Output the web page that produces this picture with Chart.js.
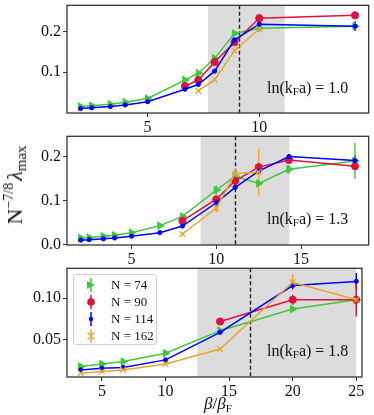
<!DOCTYPE html>
<html>
<head>
<meta charset="utf-8">
<script src="https://cdn.jsdelivr.net/npm/chart.js@4.4.0/dist/chart.umd.js"></script>
<style>
  html, body { margin: 0; padding: 0; background: #fff; }
  #wrap { position: relative; width: 374px; height: 415px; overflow: hidden;
          font-family: 'Liberation Serif', 'DejaVu Serif', serif; color: #111; }
  .panel { position: absolute; left: 0; width: 374px; }
  .note { position: absolute; left: 267px; font-size: 16px; line-height: 18px; white-space: nowrap; }
  .note sub { font-size: 11px; line-height: 0; vertical-align: -2px; }
  #ylab { position: absolute; left: 15px; top: 185px; white-space: nowrap; font-size: 22px; line-height: 24px;
          transform: translate(-50%, -50%) rotate(-90deg); }
  #ylab sup { font-size: 14px; line-height: 0; vertical-align: 9px; margin-right: 2px; }
  #ylab sub { font-size: 15px; line-height: 0; vertical-align: -4px; }
  #xlab { position: absolute; left: 218px; top: 404px; transform: translate(-50%, -50%); font-size: 17px; white-space: nowrap; }
  #xlab sub { font-size: 11px; line-height: 0; vertical-align: -3px; }
  #legend { position: absolute; left: 73px; top: 274px; width: 84px; height: 71px; box-sizing: border-box;
            border: 1px solid #cfcfcf; border-radius: 3px; background: rgba(255,255,255,0.85); }
  .lg { position: absolute; left: 0; height: 16px; font-size: 13px; line-height: 16px; white-space: nowrap; }
  .lg svg { position: absolute; left: 7px; top: 0; }
  .lg span { position: absolute; left: 37px; top: 0; }
</style>
</head>
<body>
<div id="wrap">
  <div class="panel" style="top:0;height:133px"><canvas id="c1"></canvas></div>
  <div class="panel" style="top:131px;height:134px"><canvas id="c2"></canvas></div>
  <div class="panel" style="top:263px;height:134px"><canvas id="c3"></canvas></div>

  <div class="note" style="top:79px">ln(k<sub>F</sub>a) = 1.0</div>
  <div class="note" style="top:210px">ln(k<sub>F</sub>a) = 1.3</div>
  <div class="note" style="top:342px">ln(k<sub>F</sub>a) = 1.8</div>

  <div id="ylab">N<sup>−7/8</sup><i>λ</i><sub>max</sub></div>
  <div id="xlab"><i>β</i>/<i>β</i><sub>F</sub></div>

  <div id="legend">
    <div class="lg" style="top:2px">
      <svg width="20" height="16"><line x1="10" y1="1" x2="10" y2="15" stroke="#3dc83d" stroke-width="1.5"/><polygon points="6,4 14,8 6,12" fill="#3dc83d"/></svg>
      <span>N = 74</span></div>
    <div class="lg" style="top:19px">
      <svg width="20" height="16"><line x1="10" y1="1" x2="10" y2="15" stroke="#dc143c" stroke-width="1.5"/><circle cx="10" cy="8" r="3.8" fill="#dc143c"/></svg>
      <span>N = 90</span></div>
    <div class="lg" style="top:36px">
      <svg width="20" height="16"><line x1="10" y1="1" x2="10" y2="15" stroke="#0000ff" stroke-width="1.5"/><circle cx="10" cy="8" r="2.2" fill="#0000ff"/></svg>
      <span>N = 114</span></div>
    <div class="lg" style="top:53px">
      <svg width="20" height="16"><line x1="10" y1="1" x2="10" y2="15" stroke="#e6a532" stroke-width="1.5"/><path d="M6.5 4.5 L13.5 11.5 M13.5 4.5 L6.5 11.5" stroke="#e6a532" stroke-width="1.3"/></svg>
      <span>N = 162</span></div>
  </div>
</div>

<script>
// ---- panel 1: ln(kFa) = 1.0 ----
const p1XTicks = [5, 10];
const p1YTicks = [0.1, 0.2];
const p1YTickLabels = ['0.1', '0.2'];
const p1Band = [7.70, 11.14];
const p1Dash = 9.11;
const p1X74 = [2, 2.5, 3.33, 4, 5, 6.67, 7.27, 8, 8.89, 10, 14.29];
const p1Y74 = [0.014, 0.016, 0.020, 0.025, 0.034, 0.080, 0.097, 0.134, 0.196, 0.209, 0.214];
const p1E74 = [0.002, 0.002, 0.002, 0.002, 0.002, 0.003, 0.003, 0.004, 0.004, 0.005, 0.004];
const p1X90 = [6.67, 7.27, 8, 8.89, 10, 14.29];
const p1Y90 = [0.065, 0.080, 0.125, 0.174, 0.234, 0.241];
const p1E90 = [0.003, 0.004, 0.005, 0.005, 0.010, 0.009];
const p1X114 = [2, 2.5, 3.33, 4, 5, 6.67, 7.27, 8, 8.89, 10, 14.29];
const p1Y114 = [0.009, 0.011, 0.014, 0.018, 0.026, 0.057, 0.069, 0.102, 0.180, 0.219, 0.214];
const p1E114 = [0.001, 0.001, 0.001, 0.001, 0.002, 0.002, 0.003, 0.003, 0.004, 0.008, 0.012];
const p1X162 = [7.27, 8, 8.89, 10];
const p1Y162 = [0.053, 0.081, 0.153, 0.207];
const p1E162 = [0.002, 0.003, 0.004, 0.006];

// ---- panel 2: ln(kFa) = 1.3 ----
const p2XTicks = [5, 10, 15];
const p2YTicks = [0.0, 0.1, 0.2];
const p2YTickLabels = ['0.0', '0.1', '0.2'];
const p2Band = [9.07, 14.3];
const p2Dash = 11.11;
const p2X74 = [2, 2.5, 3.33, 4, 5, 6.67, 8, 10, 11.11, 12.5, 14.29, 18.18];
const p2Y74 = [0.015, 0.016, 0.019, 0.021, 0.027, 0.043, 0.064, 0.124, 0.155, 0.139, 0.171, 0.190];
const p2E74 = [0.002, 0.002, 0.002, 0.002, 0.002, 0.002, 0.004, 0.010, 0.008, 0.004, 0.010, 0.041];
const p2X90 = [8, 10, 11.11, 12.5, 14.29, 18.18];
const p2Y90 = [0.054, 0.103, 0.145, 0.176, 0.192, 0.178];
const p2E90 = [0.004, 0.007, 0.008, 0.008, 0.005, 0.006];
const p2X114 = [2, 2.5, 3.33, 4, 5, 6.67, 8, 10, 11.11, 12.5, 14.29, 18.18];
const p2Y114 = [0.010, 0.011, 0.013, 0.015, 0.019, 0.027, 0.042, 0.095, 0.130, 0.167, 0.200, 0.191];
const p2E114 = [0.001, 0.001, 0.001, 0.001, 0.001, 0.002, 0.002, 0.004, 0.005, 0.005, 0.006, 0.012];
const p2X162 = [8, 10, 11.11, 12.5];
const p2Y162 = [0.024, 0.083, 0.161, 0.165];
const p2E162 = [0.003, 0.010, 0.010, 0.053];

// ---- panel 3: ln(kFa) = 1.8 ----
const p3XTicks = [5, 10, 15, 20, 25];
const p3YTicks = [0.05, 0.10];
const p3YTickLabels = ['0.05', '0.10'];
const p3Band = [12.5, 25];
const p3Dash = 16.67;
const p3X74 = [3.33, 5, 6.67, 10, 14.29, 20, 25];
const p3Y74 = [0.018, 0.021, 0.024, 0.034, 0.061, 0.087, 0.098];
const p3E74 = [0.001, 0.001, 0.001, 0.002, 0.003, 0.003, 0.004];
const p3X90 = [14.29, 20, 25];
const p3Y90 = [0.072, 0.098, 0.098];
const p3E90 = [0.002, 0.006, 0.020];
const p3X114 = [3.33, 5, 6.67, 10, 14.29, 20, 25];
const p3Y114 = [0.014, 0.016, 0.017, 0.026, 0.059, 0.115, 0.120];
const p3E114 = [0.001, 0.001, 0.001, 0.001, 0.002, 0.004, 0.010];
const p3X162 = [3.33, 5, 6.67, 10, 14.29, 20, 25];
const p3Y162 = [0.010, 0.012, 0.014, 0.021, 0.039, 0.119, 0.098];
const p3E162 = [0.001, 0.001, 0.001, 0.001, 0.002, 0.010, 0.015];

const GREEN = '#3dc83d', RED = '#dc143c', BLUE = '#0000ff', ORANGE = '#e6a532';

Chart.defaults.font.family = "'Liberation Serif', 'DejaVu Serif', serif";
Chart.defaults.font.size = 16;
Chart.defaults.color = '#111';

// band, dashed line and error bars under the data, frame on top
const panelDecor = {
    id: 'panelDecor',
    beforeDatasetsDraw(chart, args, opts) {
        const { ctx, chartArea: a, scales: { x, y } } = chart;
        ctx.save();
        const x0 = Math.max(a.left, x.getPixelForValue(opts.band[0]));
        const x1 = Math.min(a.right, x.getPixelForValue(opts.band[1]));
        ctx.fillStyle = '#dcdcdc';
        ctx.fillRect(x0, a.top, x1 - x0, a.bottom - a.top);

        const xd = Math.round(x.getPixelForValue(opts.dash)) + 0.5;
        ctx.strokeStyle = '#222';
        ctx.lineWidth = 1.4;
        ctx.setLineDash([4, 2.5]);
        ctx.beginPath();
        ctx.moveTo(xd, a.top);
        ctx.lineTo(xd, a.bottom);
        ctx.stroke();
        ctx.setLineDash([]);

        chart.data.datasets.slice().reverse().forEach(ds => {
            if (!ds.errorBars) return;
            ctx.strokeStyle = ds.borderColor;
            ctx.lineWidth = 1.4;
            ds.data.forEach((p, j) => {
                const e = ds.errorBars[j];
                if (!e) return;
                const px = x.getPixelForValue(p.x);
                ctx.beginPath();
                ctx.moveTo(px, y.getPixelForValue(p.y - e));
                ctx.lineTo(px, y.getPixelForValue(p.y + e));
                ctx.stroke();
            });
        });
        ctx.restore();
    },
    afterDatasetsDraw(chart) {
        const { ctx, chartArea: a } = chart;
        ctx.save();
        ctx.strokeStyle = '#333';
        ctx.lineWidth = 1.3;
        ctx.strokeRect(a.left, a.top, a.right - a.left, a.bottom - a.top);
        ctx.restore();
    }
};

function series(label, xs, ys, errs, color, extra) {
    return Object.assign({
        label: label,
        data: xs.map((x, i) => ({ x: x, y: ys[i] })),
        errorBars: errs,
        showLine: true,
        borderColor: color,
        backgroundColor: color,
        pointBackgroundColor: color,
        pointBorderColor: color,
        borderWidth: 1.5,
        pointBorderWidth: 1,
        tension: 0
    }, extra);
}

function buildPanel(id, p) {
    const datasets = [
        series('N = 74', p.x74, p.y74, p.e74, GREEN, { pointStyle: 'triangle', pointRotation: 90, pointRadius: 4.3, order: 4 }),
        series('N = 90', p.x90, p.y90, p.e90, RED, { pointStyle: 'circle', pointRadius: 3.6, order: 3 }),
        series('N = 114', p.x114, p.y114, p.e114, BLUE, { pointStyle: 'circle', pointRadius: 2.1, order: 2 }),
        series('N = 162', p.x162, p.y162, p.e162, ORANGE, { pointStyle: 'crossRot', pointRadius: 4, pointBorderWidth: 1.3, order: 1 })
    ];
    return new Chart(document.getElementById(id), {
        type: 'scatter',
        data: { datasets: datasets },
        options: {
            responsive: true,
            maintainAspectRatio: false,
            animation: false,
            events: [],
            layout: { padding: { top: 4, right: p.padRight, left: 0, bottom: 0 } },
            plugins: {
                legend: { display: false },
                tooltip: { enabled: false },
                panelDecor: { band: p.band, dash: p.dash }
            },
            scales: {
                x: {
                    type: 'linear',
                    min: p.xMin,
                    max: p.xMax,
                    afterBuildTicks: s => { s.ticks = p.xTicks.map(v => ({ value: v })); },
                    afterFit: s => { s.height = 20; s.paddingLeft = 0; s.paddingRight = 0; },
                    ticks: { padding: 1, maxRotation: 0, autoSkip: false, color: '#111' },
                    grid: { drawOnChartArea: false, tickLength: 4, color: '#333' },
                    border: { display: false }
                },
                y: {
                    type: 'linear',
                    min: p.yMin,
                    max: p.yMax,
                    afterBuildTicks: s => { s.ticks = p.yTicks.map(v => ({ value: v })); },
                    afterFit: s => { s.width = 67; s.paddingTop = 0; s.paddingBottom = 0; },
                    ticks: { padding: 2, autoSkip: false, color: '#111', callback: (v, i) => p.yLabels[i] },
                    grid: { drawOnChartArea: false, tickLength: 4, color: '#333' },
                    border: { display: false }
                }
            }
        },
        plugins: [panelDecor]
    });
}

buildPanel('c1', {
    x74: p1X74, y74: p1Y74, e74: p1E74, x90: p1X90, y90: p1Y90, e90: p1E90,
    x114: p1X114, y114: p1Y114, e114: p1E114, x162: p1X162, y162: p1Y162, e162: p1E162,
    xTicks: p1XTicks, yTicks: p1YTicks, yLabels: p1YTickLabels, band: p1Band, dash: p1Dash,
    xMin: 1.39, xMax: 14.9, yMin: -0.002, yMax: 0.266, padRight: 4
});
buildPanel('c2', {
    x74: p2X74, y74: p2Y74, e74: p2E74, x90: p2X90, y90: p2Y90, e90: p2E90,
    x114: p2X114, y114: p2Y114, e114: p2E114, x162: p2X162, y162: p2Y162, e162: p2E162,
    xTicks: p2XTicks, yTicks: p2YTicks, yLabels: p2YTickLabels, band: p2Band, dash: p2Dash,
    xMin: 1.19, xMax: 18.99, yMin: -0.001, yMax: 0.246, padRight: 4
});
buildPanel('c3', {
    x74: p3X74, y74: p3Y74, e74: p3E74, x90: p3X90, y90: p3Y90, e90: p3E90,
    x114: p3X114, y114: p3Y114, e114: p3E114, x162: p3X162, y162: p3Y162, e162: p3E162,
    xTicks: p3XTicks, yTicks: p3YTicks, yLabels: p3YTickLabels, band: p3Band, dash: p3Dash,
    xMin: 2.25, xMax: 25.45, yMin: 0.0055, yMax: 0.1357, padRight: 12
});
</script>
</body>
</html>
